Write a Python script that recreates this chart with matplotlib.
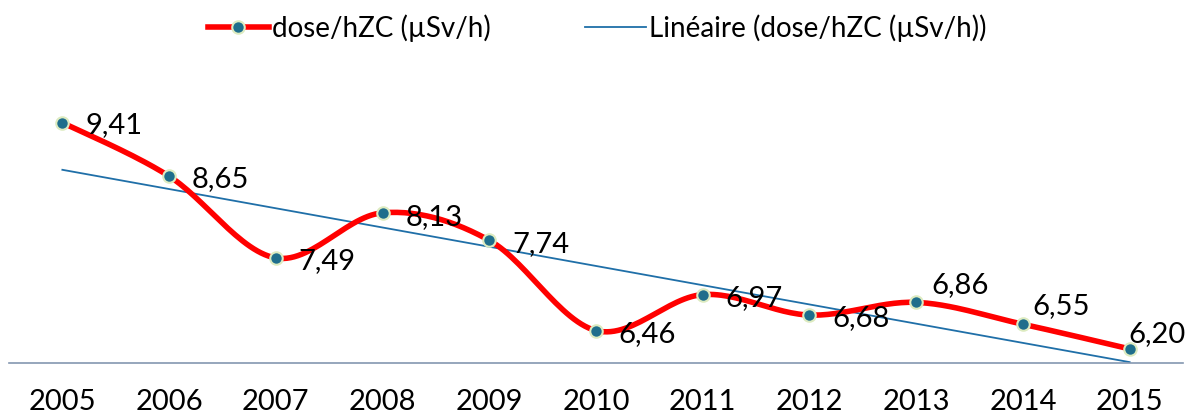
import numpy as np
import matplotlib
matplotlib.use("Agg")
import matplotlib.pyplot as plt
from matplotlib.lines import Line2D

plt.rcParams['font.family'] = ['Lato', 'DejaVu Sans']

years = ['2005', '2006', '2007', '2008', '2009', '2010', '2011', '2012', '2013', '2014', '2015']
dose = [9.41, 8.65, 7.49, 8.13, 7.74, 6.46, 6.97, 6.68, 6.86, 6.55, 6.20]
labels = ['9,41', '8,65', '7,49', '8,13', '7,74', '6,46', '6,97', '6,68', '6,86', '6,55', '6,20']
# label offsets in points (dx, dy of the baseline), like the Excel placement
offsets = [(16.5, -7.5), (16.5, -8), (16.5, -8), (16.5, -8.5), (16.5, -8.5), (16, -8),
           (16.5, -8), (16.5, -8), (11, 7), (7, 7), (-1, 5)]

x = np.arange(len(years))
y = np.array(dose)


def smooth(xs, ys, n=30):
    # Excel-like smoothed line (Catmull-Rom bezier)
    px, py = [], []
    m = len(xs)
    for i in range(m - 1):
        p0 = (xs[max(i - 1, 0)], ys[max(i - 1, 0)])
        p1 = (xs[i], ys[i])
        p2 = (xs[i + 1], ys[i + 1])
        p3 = (xs[min(i + 2, m - 1)], ys[min(i + 2, m - 1)])
        c1 = (p1[0] + (p2[0] - p0[0]) / 6, p1[1] + (p2[1] - p0[1]) / 6)
        c2 = (p2[0] - (p3[0] - p1[0]) / 6, p2[1] - (p3[1] - p1[1]) / 6)
        t = np.linspace(0, 1, n)
        bx = (1-t)**3*p1[0] + 3*(1-t)**2*t*c1[0] + 3*(1-t)*t**2*c2[0] + t**3*p2[0]
        by = (1-t)**3*p1[1] + 3*(1-t)**2*t*c1[1] + 3*(1-t)*t**2*c2[1] + t**3*p2[1]
        px.extend(bx)
        py.extend(by)
    return np.array(px), np.array(py)


fig = plt.figure(figsize=(11.89, 4.18), dpi=100)
ax = fig.add_axes([9/1189, 1 - 363/418, (1183 - 9)/1189, (363 - 81)/418])

sx, sy = smooth(x, y)
ax.plot(sx, sy, color='#FF0000', lw=4, solid_capstyle='round', zorder=2)
ax.plot(x, y, 'o', ms=9, mfc='#1F6E8C', mec='#DDEBC0', mew=1.5, zorder=3)

coef = np.polyfit(x, y, 1)
ax.plot(x, np.polyval(coef, x), color='#1F6FA8', lw=1.3, zorder=1)

for xi, yi, lab, (dx, dy) in zip(x, y, labels, offsets):
    ax.annotate(lab, (xi, yi), xytext=(dx, dy), textcoords='offset points',
                ha='left', va='baseline', fontsize=21, color='black', zorder=4)

ax.set_xlim(-0.5, len(years) - 0.5)
ax.set_ylim(6.0, 10.0)
ax.set_xticks(x)
ax.set_xticklabels(years, fontsize=21)
ax.set_yticks([])
for s in ['top', 'right', 'left']:
    ax.spines[s].set_visible(False)
ax.spines['bottom'].set_color('#8497B0')
ax.spines['bottom'].set_linewidth(1.2)
ax.tick_params(axis='x', length=0, pad=19)

handles = [
    Line2D([0], [0], color='#FF0000', lw=4, marker='o', ms=9, mfc='#1F6E8C', mec='#DDEBC0', mew=1.5),
    Line2D([0], [0], color='#1F6FA8', lw=1.3),
]
fig.legend(handles, ['dose/hZC (µSv/h)', 'Linéaire (dose/hZC (µSv/h))'],
           loc='center', bbox_to_anchor=(597/1189, 1 - 28/418), ncol=2, frameon=False,
           fontsize=20, handlelength=2.2, handletextpad=0.1, columnspacing=3.4)

fig.savefig('out.png', dpi=100)
